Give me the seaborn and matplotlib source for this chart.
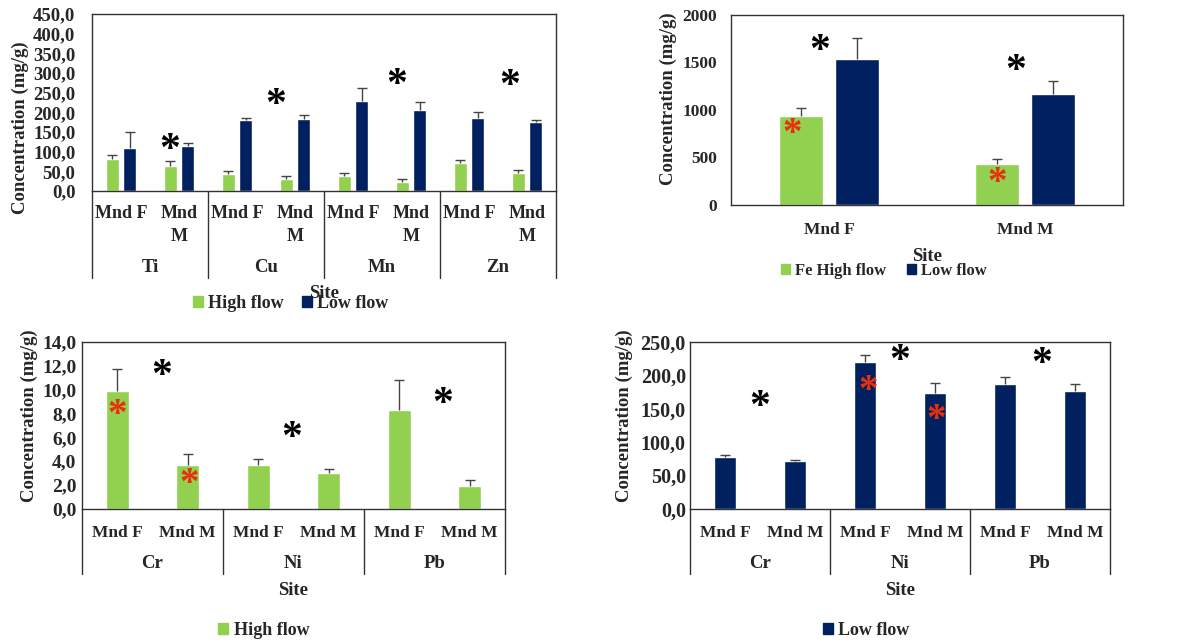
import numpy as np
import pandas as pd
import matplotlib
matplotlib.use("Agg")
import matplotlib.pyplot as plt
import matplotlib.transforms as mtransforms
from matplotlib.patches import Patch
import seaborn as sns

sns.set_theme(style="white")
plt.rcParams['font.family'] = ['Liberation Serif', 'DejaVu Serif']
plt.rcParams['font.weight'] = 'bold'

GREEN = "#92D050"
NAVY = "#002060"
RED = "#E8300E"

# ---------------- data ----------------
sites = ["Mnd F", "Mnd M"]
metals_a = ["Ti", "Cu", "Mn", "Zn"]
high_a = [82, 64, 44, 31, 39, 24, 71, 46]
high_a_err = [9.5, 11, 6, 6, 6, 6, 8, 7]
low_a = [108, 115, 180, 182, 228, 207, 186, 176]
low_a_err = [42, 6, 6, 12, 35, 18, 16, 4]
yticks_a = [0, 50, 100, 150, 200, 250, 300, 350, 400, 450]
stars_a_x = [0.84, 2.66, 4.76, 6.71]
stars_a_y = [125, 239, 290, 287]

high_fe = [939, 434]
high_fe_err = [84, 49]
low_fe = [1531, 1163]
low_fe_err = [220, 137]
yticks_fe = [0, 500, 1000, 1500, 2000]
stars_fe_x = [-0.046, 0.95]
stars_fe_y = [1700, 1490]
red_fe_x = [-0.19, 0.857]
red_fe_y = [823, 315]

metals_b = ["Cr", "Ni", "Pb"]
high_b = [9.9, 3.7, 3.67, 3.0, 8.32, 1.9]
high_b_err = [1.83, 0.86, 0.47, 0.3, 2.49, 0.48]
yticks_b = [0, 2, 4, 6, 8, 10, 12, 14]
stars_b_x = [0.63, 2.48, 4.62]
stars_b_y = [11.8, 6.6, 9.46]
red_b_x = [0.0, 1.02]
red_b_y = [8.5, 2.7]

low_c = [77.5, 71.5, 220.5, 174, 187.5, 177]
low_c_err = [2.5, 1, 10.5, 15, 10, 10]
yticks_c = [0, 50, 100, 150, 200, 250]
stars_c_x = [0.49, 2.5, 4.53]
stars_c_y = [164, 233, 229]
red_c_x = [2.04, 3.01]
red_c_y = [188, 144]

fig = plt.figure(figsize=(11.91, 6.43), dpi=100)

ax1 = fig.add_axes([0.0772, 0.7030, 0.3896, 0.2753])
ax2 = fig.add_axes([0.6138, 0.6812, 0.3291, 0.2959])
ax3 = fig.add_axes([0.0688, 0.2089, 0.3552, 0.2592])
ax4 = fig.add_axes([0.5793, 0.2089, 0.3527, 0.2592])

FS = 13.5


def style_axes(ax):
    for s in ax.spines.values():
        s.set_visible(True)
        s.set_color("#333333")
        s.set_linewidth(1.0)
    ax.tick_params(axis="both", length=0)
    ax.grid(False)


def add_errbars(ax, container, err):
    xs = np.array([b.get_x() + b.get_width() / 2 for b in container])
    hs = np.array([b.get_height() for b in container])
    tops = hs + np.array(err)
    ax.vlines(xs, hs, tops, colors="#444444", lw=1.0)
    ax.plot(xs, tops, ls="none", marker="_", ms=7, mew=1.0, color="#444444")


def groups(ax, names, per, depth, label_y, fs=FS):
    trans = mtransforms.blended_transform_factory(ax.transData, ax.transAxes)
    n = len(names)
    for i in range(n + 1):
        xb = i * per - 0.5
        ax.plot([xb, xb], [0, depth], color="#333333", lw=1.0,
                transform=trans, clip_on=False)
    for i, nm in enumerate(names):
        ax.text(i * per + (per - 1) / 2, label_y, nm, transform=trans,
                ha="center", va="center", fontsize=fs, fontweight="bold")


def stars(ax, xs, ys, color, fs):
    # the asterisk glyph sits high in its text box; shift so its centre is at (x, y)
    tr = mtransforms.offset_copy(ax.transData, fig=fig, y=-0.21 * fs, units="points")
    for x, y in zip(xs, ys):
        ax.text(x, y, "*", ha="center", va="center", fontsize=fs,
                color=color, fontweight="bold", transform=tr)


# ---------------- panel 1 ----------------
keys_a = [f"{m}|{s}" for m in metals_a for s in sites]
df_a = pd.DataFrame({
    "key": keys_a * 2,
    "value": high_a + low_a,
    "flow": ["High flow"] * len(keys_a) + ["Low flow"] * len(keys_a),
})
sns.barplot(data=df_a, x="key", y="value", hue="flow", order=keys_a,
            palette=[GREEN, NAVY], width=0.59, gap=0.24, errorbar=None,
            legend=False, ax=ax1, saturation=1)
add_errbars(ax1, ax1.containers[0], high_a_err)
add_errbars(ax1, ax1.containers[1], low_a_err)
style_axes(ax1)
ax1.set_ylim(0, 450)
ax1.set_xlim(-0.5, len(keys_a) - 0.5)
ax1.set_yticks(yticks_a)
ax1.set_yticklabels([f"{v:.1f}".replace(".", ",") for v in yticks_a],
                    fontsize=13.5, fontweight="bold")
ax1.set_xticks(range(len(keys_a)))
ax1.set_xticklabels(["Mnd F" if s == "Mnd F" else "Mnd\nM" for m in metals_a for s in sites],
                    fontsize=13, fontweight="bold", linespacing=1.45)
ax1.tick_params(axis="x", pad=10)
ax1.tick_params(axis="y", pad=12)
ax1.set_ylabel("Concentration (mg/g)", fontsize=FS, fontweight="bold")
ax1.yaxis.set_label_coords(-0.136, 0.36)
ax1.set_xlabel("Site", fontsize=FS, fontweight="bold")
ax1.xaxis.set_label_coords(0.5, -0.53)
groups(ax1, metals_a, 2, -0.49, -0.435)
stars(ax1, stars_a_x, stars_a_y, "black", 30)
ax1.legend(handles=[Patch(color=GREEN, label="High flow"),
                    Patch(color=NAVY, label="Low flow")],
           loc="center", bbox_to_anchor=(0.428, -0.635), ncol=2, frameon=False,
           handlelength=0.55, handleheight=0.55, handletextpad=0.3,
           columnspacing=1.0, prop={"size": 13, "weight": "bold"})

# ---------------- panel 2 ----------------
df_fe = pd.DataFrame({
    "site": sites * 2,
    "value": high_fe + low_fe,
    "flow": ["Fe High flow"] * 2 + ["Low flow"] * 2,
})
sns.barplot(data=df_fe, x="site", y="value", hue="flow", order=sites,
            palette=[GREEN, NAVY], width=0.572, gap=0.22, errorbar=None,
            legend=False, ax=ax2, saturation=1)
add_errbars(ax2, ax2.containers[0], high_fe_err)
add_errbars(ax2, ax2.containers[1], low_fe_err)
style_axes(ax2)
ax2.set_ylim(0, 2000)
ax2.set_xlim(-0.5, 1.5)
ax2.set_yticks(yticks_fe)
ax2.set_yticklabels([str(v) for v in yticks_fe], fontsize=12.5, fontweight="bold")
ax2.set_xticks(range(2))
ax2.set_xticklabels(sites, fontsize=12.5, fontweight="bold")
ax2.tick_params(axis="x", pad=12)
ax2.tick_params(axis="y", pad=10)
ax2.set_ylabel("Concentration (mg/g)", fontsize=FS, fontweight="bold")
ax2.yaxis.set_label_coords(-0.138, 0.557)
ax2.set_xlabel("Site", fontsize=FS, fontweight="bold")
ax2.xaxis.set_label_coords(0.5, -0.225)
stars(ax2, stars_fe_x, stars_fe_y, "black", 30)
stars(ax2, red_fe_x, red_fe_y, RED, 28)
ax2.legend(handles=[Patch(color=GREEN, label="Fe High flow"),
                    Patch(color=NAVY, label="Low flow")],
           loc="center", bbox_to_anchor=(0.39, -0.345), ncol=2, frameon=False,
           handlelength=0.55, handleheight=0.55, handletextpad=0.3,
           columnspacing=1.2, prop={"size": 12, "weight": "bold"})

# ---------------- panel 3 ----------------
keys_b = [f"{m}|{s}" for m in metals_b for s in sites]
df_b = pd.DataFrame({"key": keys_b, "value": high_b})
sns.barplot(data=df_b, x="key", y="value", order=keys_b, color=GREEN,
            width=0.33, errorbar=None, ax=ax3, saturation=1)
add_errbars(ax3, ax3.containers[0], high_b_err)
style_axes(ax3)
ax3.set_ylim(0, 14)
ax3.set_xlim(-0.5, len(keys_b) - 0.5)
ax3.set_yticks(yticks_b)
ax3.set_yticklabels([f"{v:.1f}".replace(".", ",") for v in yticks_b],
                    fontsize=14, fontweight="bold")
ax3.set_xticks(range(len(keys_b)))
ax3.set_xticklabels([s for m in metals_b for s in sites], fontsize=12.5, fontweight="bold")
ax3.tick_params(axis="x", pad=12)
ax3.tick_params(axis="y", pad=4)
ax3.set_ylabel("Concentration (mg/g)", fontsize=FS, fontweight="bold")
ax3.yaxis.set_label_coords(-0.104, 0.557)
ax3.set_xlabel("Site", fontsize=FS, fontweight="bold")
ax3.xaxis.set_label_coords(0.5, -0.44)
groups(ax3, metals_b, 2, -0.39, -0.33)
stars(ax3, stars_b_x, stars_b_y, "black", 30)
stars(ax3, red_b_x, red_b_y, RED, 28)
ax3.legend(handles=[Patch(color=GREEN, label="High flow")],
           loc="center", bbox_to_anchor=(0.43, -0.73), frameon=False,
           handlelength=0.55, handleheight=0.55, handletextpad=0.3,
           prop={"size": 13, "weight": "bold"})

# ---------------- panel 4 ----------------
df_c = pd.DataFrame({"key": keys_b, "value": low_c})
sns.barplot(data=df_c, x="key", y="value", order=keys_b, color=NAVY,
            width=0.32, errorbar=None, ax=ax4, saturation=1)
add_errbars(ax4, ax4.containers[0], low_c_err)
style_axes(ax4)
ax4.set_ylim(0, 250)
ax4.set_xlim(-0.5, len(keys_b) - 0.5)
ax4.set_yticks(yticks_c)
ax4.set_yticklabels([f"{v:.1f}".replace(".", ",") for v in yticks_c],
                    fontsize=14.5, fontweight="bold")
ax4.set_xticks(range(len(keys_b)))
ax4.set_xticklabels([s for m in metals_b for s in sites], fontsize=12.5, fontweight="bold")
ax4.tick_params(axis="x", pad=12)
ax4.tick_params(axis="y", pad=3)
ax4.set_ylabel("Concentration (mg/g)", fontsize=FS, fontweight="bold")
ax4.yaxis.set_label_coords(-0.136, 0.557)
ax4.set_xlabel("Site", fontsize=FS, fontweight="bold")
ax4.xaxis.set_label_coords(0.5, -0.44)
groups(ax4, metals_b, 2, -0.39, -0.33)
stars(ax4, stars_c_x, stars_c_y, "black", 30)
stars(ax4, red_c_x, red_c_y, RED, 28)
ax4.legend(handles=[Patch(color=NAVY, label="Low flow")],
           loc="center", bbox_to_anchor=(0.42, -0.73), frameon=False,
           handlelength=0.55, handleheight=0.55, handletextpad=0.3,
           prop={"size": 13, "weight": "bold"})

fig.savefig("out.png", dpi=100, facecolor="white")
